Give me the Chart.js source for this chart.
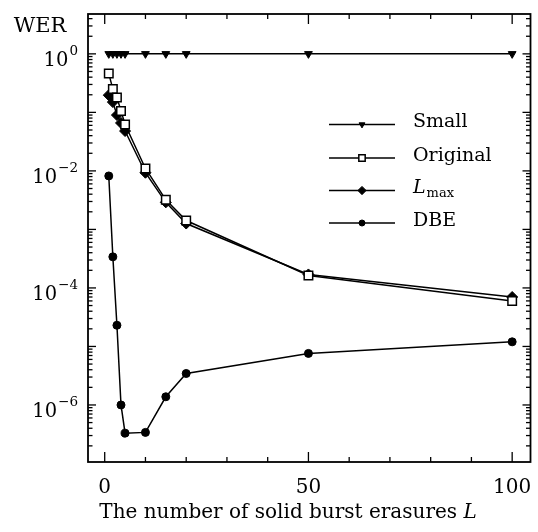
<!DOCTYPE html>
<html>
<head>
<meta charset="utf-8">
<script src="https://cdn.jsdelivr.net/npm/chart.js@4.4.1/dist/chart.umd.min.js"></script>
<style>
  html, body { margin: 0; padding: 0; background: #fff; }
  #wrap { width: 538px; height: 532px; }
</style>
</head>
<body>
<div id="wrap"><canvas id="chart" width="538" height="532"></canvas></div>
<script>
var burstL = [1, 2, 3, 4, 5, 10, 15, 20, 50, 100];
var werSmall = [1, 1, 1, 1, 1, 1, 1, 1, 1, 1];
var werOriginal = [0.46, 0.25, 0.18, 0.106, 0.062, 0.011, 0.0032, 0.00142, 0.000163, 0.00006];
var werLmax = [0.197, 0.15, 0.09, 0.066, 0.048, 0.0093, 0.0029, 0.00126, 0.00017, 0.00007];
var werDBE = [0.0082, 0.00034, 0.000023, 0.000001, 3.3e-7, 3.4e-7, 1.38e-6, 3.45e-6, 7.6e-6, 1.2e-5];
var xTicks = [0, 50, 100];
var yTickExps = [0, -2, -4, -6];
var seriesNames = ['Small', 'Original', 'Lmax', 'DBE'];

var FONT = '"DejaVu Serif", serif';

function points(ys) {
  return burstL.map(function (x, i) { return { x: x, y: ys[i] }; });
}

function series(label, ys, style) {
  return Object.assign({
    label: label,
    data: points(ys),
    borderColor: '#000',
    borderWidth: 1.5,
    pointBorderColor: '#000',
    pointBackgroundColor: '#000',
    pointBorderWidth: 1,
    fill: false,
    tension: 0
  }, style);
}

var datasets = [
  series(seriesNames[0], werSmall, { pointStyle: 'triangle', pointRotation: 180, pointRadius: 4.5 }),
  series(seriesNames[1], werOriginal, { pointStyle: 'rect', pointRadius: 6, pointBackgroundColor: '#fff', pointBorderWidth: 1.5 }),
  series(seriesNames[2], werLmax, { pointStyle: 'rectRot', pointRadius: 5.5 }),
  series(seriesNames[3], werDBE, { pointStyle: 'circle', pointRadius: 4 })
];

function seg(ctx, x1, y1, x2, y2) {
  ctx.beginPath();
  ctx.moveTo(x1, y1);
  ctx.lineTo(x2, y2);
  ctx.stroke();
}

// frame, inward ticks, tick labels, axis titles and legend
var decorations = {
  id: 'decorations',
  afterDraw: function (chart) {
    var ctx = chart.ctx, a = chart.chartArea;
    var xs = chart.scales.x, ys = chart.scales.y;
    ctx.save();
    ctx.strokeStyle = '#000';
    ctx.fillStyle = '#000';

    ctx.lineWidth = 1.8;
    ctx.strokeRect(a.left, a.top, a.right - a.left, a.bottom - a.top);

    ctx.lineWidth = 1.3;
    for (var v = 0; v <= 100; v += 10) {
      var px = xs.getPixelForValue(v);
      var len = v % 50 === 0 ? 10 : 5;
      seg(ctx, px, a.bottom, px, a.bottom - len);
      seg(ctx, px, a.top, px, a.top + len);
    }
    for (var e = -8; e <= 1; e++) {
      for (var m = 1; m < 10; m++) {
        var val = m * Math.pow(10, e);
        if (val < ys.min || val > ys.max) continue;
        var py = ys.getPixelForValue(val);
        var l = m === 1 ? 8 : 4.5;
        seg(ctx, a.left, py, a.left + l, py);
        seg(ctx, a.right, py, a.right - l, py);
      }
    }

    // x tick labels
    ctx.font = '20px ' + FONT;
    ctx.textAlign = 'center';
    ctx.textBaseline = 'alphabetic';
    xTicks.forEach(function (t) {
      ctx.fillText(String(t), xs.getPixelForValue(t), a.bottom + 31);
    });

    // y tick labels as powers of ten
    yTickExps.forEach(function (p) {
      var py = ys.getPixelForValue(Math.pow(10, p));
      var sup = p === 0 ? '0' : '\u2212' + (-p);
      ctx.font = '13.5px ' + FONT;
      var sw = ctx.measureText(sup).width;
      var right = a.left - 10;
      ctx.textAlign = 'right';
      ctx.fillText(sup, right, py + 1);
      ctx.font = '19.5px ' + FONT;
      ctx.fillText('10', right - sw - 1, py + 12);
    });

    // axis titles
    ctx.font = '21px ' + FONT;
    ctx.textAlign = 'center';
    ctx.fillText('WER', 40, 32);

    ctx.font = '20px ' + FONT;
    var title = 'The number of solid burst erasures ';
    var tw = ctx.measureText(title).width;
    ctx.font = 'italic 20px ' + FONT;
    var lw = ctx.measureText('L').width;
    var x0 = 288 - (tw + lw) / 2;
    ctx.textAlign = 'left';
    ctx.font = '20px ' + FONT;
    ctx.fillText(title, x0, 518);
    ctx.font = 'italic 20px ' + FONT;
    ctx.fillText('L', x0 + tw, 518);

    // legend
    var rowY = [124.5, 158, 190.5, 223];
    chart.data.datasets.forEach(function (ds, i) {
      var y = rowY[i];
      ctx.lineWidth = ds.borderWidth;
      seg(ctx, 329, y, 395, y);
      ctx.lineWidth = ds.pointBorderWidth;
      ctx.fillStyle = ds.pointBackgroundColor;
      ctx.strokeStyle = ds.pointBorderColor;
      Chart.helpers.drawPoint(ctx, {
        pointStyle: ds.pointStyle,
        rotation: ds.pointRotation || 0,
        radius: ds.pointRadius * 0.75,
        borderWidth: ds.pointBorderWidth
      }, 362, y);
      ctx.fillStyle = '#000';
      ctx.strokeStyle = '#000';
      ctx.textAlign = 'left';
      ctx.textBaseline = 'middle';
      if (ds.label === 'Lmax') {
        ctx.font = 'italic 19px ' + FONT;
        ctx.fillText('L', 413, y - 2);
        var w = ctx.measureText('L').width;
        ctx.font = '13px ' + FONT;
        ctx.fillText('max', 413 + w + 1, y + 3);
      } else {
        ctx.font = '19px ' + FONT;
        ctx.fillText(ds.label, 413, y - 2);
      }
      ctx.textBaseline = 'alphabetic';
    });
    ctx.restore();
  }
};

var ctx = document.getElementById('chart').getContext('2d');
var werChart = new Chart(ctx, {
  type: 'line',
  data: { datasets: datasets },
  options: {
    responsive: false,
    animation: false,
    layout: { padding: { left: 88, top: 14, right: 1, bottom: 70 } },
    scales: {
      x: { type: 'linear', min: -4.1, max: 104.5, display: false },
      y: { type: 'logarithmic', min: 1.06e-7, max: 4.8, display: false }
    },
    plugins: {
      legend: { display: false },
      tooltip: { enabled: false }
    }
  },
  plugins: [decorations]
});
</script>
</body>
</html>
